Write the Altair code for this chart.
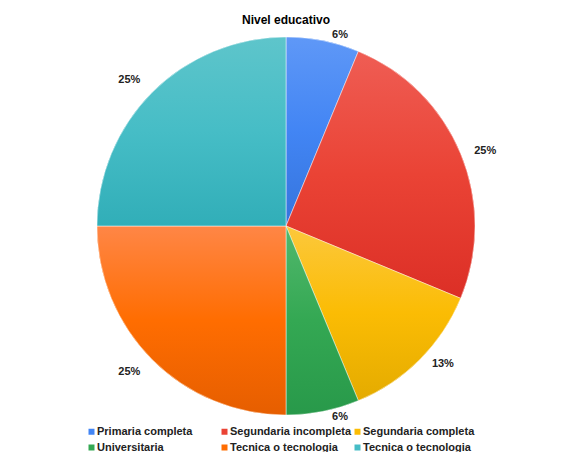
import json
import altair as alt
import pandas as pd

title_text = "Nivel educativo"
categories = ["Primaria completa", "Segundaria incompleta", "Segundaria completa",
              "Universitaria", "Tecnica o tecnologia", "Tecnica o tecnologia"]
counts = [1, 4, 2, 1, 4, 4]
base_colors = ["#4285F4", "#EA4335", "#FBBC04", "#34A853", "#FF6D01", "#46BDC6"]
light_colors = ["#5f98f7", "#ef5d54", "#fcc83c", "#52b86d", "#ff8646", "#5ec5cb"]
dark_colors = ["#3574dc", "#dc2f26", "#e4ab00", "#28994a", "#e65e00", "#31aeb8"]

FONT = "Liberation Sans, Arial, sans-serif"
CX, CY, R = 278, 218, 189
LABEL_R = 195

df = pd.DataFrame({"idx": list(range(len(categories))),
                   "category": categories, "count": counts})


def grad(l, m, d):
    return {"gradient": "linear", "x1": 0, "y1": 0, "x2": 0, "y2": 1,
            "stops": [{"offset": 0, "color": l},
                      {"offset": 0.5, "color": m},
                      {"offset": 1, "color": d}]}


grads = [grad(l, m, d) for l, m, d in zip(light_colors, base_colors, dark_colors)]
fill_def = {
    "condition": [{"test": f"datum.idx == {i}", "value": grads[i]} for i in range(len(grads) - 1)],
    "value": grads[-1],
}

label_expr = json.dumps(categories) + "[datum.value]"

theta = alt.Theta("count:Q", stack=True)
order = alt.Order("idx:Q", sort="ascending")

base = alt.Chart(df).mark_arc(radius=R).encode(
    theta=theta,
    order=order,
    x=alt.value(CX),
    y=alt.value(CY),
    color=alt.Color(
        "idx:N",
        scale=alt.Scale(domain=list(range(len(categories))), range=base_colors),
        legend=alt.Legend(
            orient="none", legendX=78, legendY=418, direction="horizontal",
            columns=3, gridAlign="all", title=None,
            symbolType="square", symbolSize=36, symbolStrokeWidth=0,
            labelFont=FONT, labelFontSize=11, labelFontWeight="bold",
            labelColor="#222222", labelExpr=label_expr, labelOffset=0,
            columnPadding=0, rowPadding=4, labelLimit=0,
        ),
    ),
)

grad_layer = alt.Chart(df).mark_arc(
    radius=R, stroke="#ffffff", strokeWidth=0.8, strokeOpacity=0.6
).encode(
    theta=theta,
    order=order,
    x=alt.value(CX),
    y=alt.value(CY),
    fill=fill_def,
)

label_base = alt.Chart(df).transform_joinaggregate(
    total="sum(count)"
).transform_window(
    cum="sum(count)", sort=[alt.SortField("idx")]
).transform_calculate(
    pct="round(100 * datum.count / datum.total) + '%'",
    right_side="(datum.cum - datum.count / 2) < datum.total / 2",
)

labels_right = label_base.mark_text(
    radius=LABEL_R, font=FONT, fontSize=11, fontWeight="bold", color="#222222",
    align="left", dx=8,
).encode(
    theta=theta,
    order=order,
    x=alt.value(CX),
    y=alt.value(CY),
    text="pct:N",
    opacity=alt.condition("datum.right_side", alt.value(1), alt.value(0)),
)

labels_left = label_base.mark_text(
    radius=LABEL_R + 11, font=FONT, fontSize=11, fontWeight="bold", color="#222222",
    align="right",
).encode(
    theta=theta,
    order=order,
    x=alt.value(CX),
    y=alt.value(CY),
    text="pct:N",
    opacity=alt.condition("datum.right_side", alt.value(0), alt.value(1)),
)

title = alt.Chart(pd.DataFrame({"t": [title_text]})).mark_text(
    font=FONT, fontSize=12, fontWeight="bold", color="#000000", baseline="middle"
).encode(
    x=alt.value(CX),
    y=alt.value(12),
    text="t:N",
)

chart = alt.layer(base, grad_layer, labels_right, labels_left, title).properties(
    width=572, height=444, autosize="none", padding=0
).configure_view(stroke=None)

chart.save("out.html", embed_options={"renderer": "svg", "actions": False})
